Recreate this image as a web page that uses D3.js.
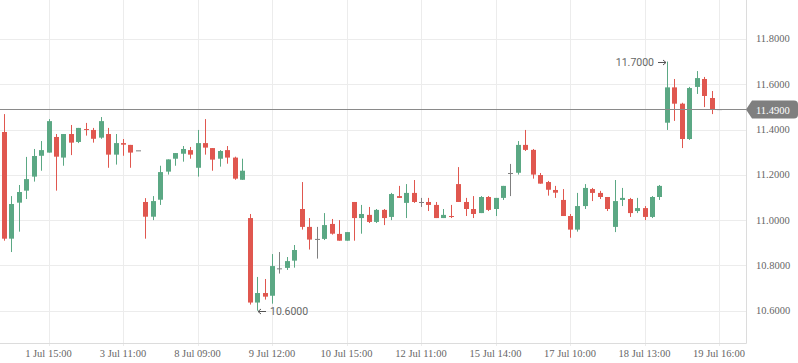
<!DOCTYPE html>
<html>
<head>
<meta charset="utf-8">
<script src="https://cdn.jsdelivr.net/npm/d3@7"></script>
<style>
  body { margin: 0; background: #fff; }
  svg { display: block; }
</style>
</head>
<body>
<div id="chart"></div>
<script>
// hourly candles, one per slot
const opens = [11.389,10.918,11.077,11.130,11.192,11.284,11.298,11.367,11.276,11.380,11.345,11.402,11.398,11.364,11.380,11.289,11.340,11.332,11.308,
  11.080,11.015,11.090,11.214,11.271,11.293,11.309,11.231,11.340,11.318,11.271,11.309,11.276,11.178,
  11.009,10.636,10.678,10.666,10.787,10.789,10.821,11.049,10.970,10.917,10.917,10.983,10.939,10.909,11.080,11.009,11.023,10.992,11.045,11.014,
  11.106,11.076,11.120,11.080,11.080,11.067,11.009,11.018,11.159,11.080,11.049,11.031,11.102,11.049,11.098,
  11.208,11.209,11.332,11.310,11.199,11.168,11.133,11.089,11.018,10.958,11.062,11.137,11.120,11.102,10.970,11.089,11.093,11.040,11.053,11.014,11.102,
  11.430,11.586,11.514,11.358,11.588,11.623,11.539,11.490];
const highs = [11.468,11.106,11.155,11.279,11.314,11.349,11.446,11.380,11.380,11.420,11.407,11.429,11.407,11.455,11.407,11.380,11.358,11.332,11.308,
  11.097,11.106,11.240,11.268,11.296,11.327,11.323,11.398,11.446,11.318,11.309,11.327,11.280,11.271,
  11.027,10.749,10.740,10.850,10.859,10.837,10.890,11.168,11.009,10.970,11.031,11.005,11.000,10.947,11.080,11.067,11.058,11.049,11.049,11.120,
  11.151,11.159,11.177,11.098,11.098,11.080,11.049,11.067,11.234,11.098,11.106,11.106,11.106,11.098,11.151,
  11.248,11.349,11.398,11.314,11.208,11.173,11.151,11.137,11.027,11.120,11.159,11.142,11.129,11.102,11.177,11.142,11.098,11.098,11.062,11.106,11.155,
  11.700,11.623,11.518,11.588,11.658,11.632,11.570,11.490];
const lows = [10.909,10.859,10.949,11.093,11.170,11.218,11.298,11.130,11.240,11.287,11.340,11.373,11.342,11.359,11.231,11.245,11.284,11.231,11.308,
  10.918,11.000,11.067,11.201,11.240,11.258,11.271,11.192,11.289,11.218,11.236,11.249,11.178,11.178,
  10.627,10.600,10.649,10.631,10.764,10.780,10.790,10.958,10.870,10.830,10.912,10.936,10.909,10.909,10.909,10.940,10.987,10.987,10.978,11.000,
  11.098,11.009,11.076,11.058,11.040,11.009,11.009,11.009,11.080,11.018,11.009,11.031,11.040,11.018,11.089,
  11.106,11.201,11.305,11.183,11.161,11.108,11.098,11.018,10.922,10.949,11.049,11.084,11.093,11.040,10.947,11.062,11.014,11.031,11.000,11.009,11.089,
  11.398,11.438,11.318,11.354,11.557,11.499,11.468,11.490];
const closes = [10.918,11.071,11.124,11.181,11.283,11.309,11.437,11.280,11.380,11.342,11.407,11.398,11.359,11.437,11.289,11.340,11.333,11.298,11.308,
  11.015,11.084,11.212,11.268,11.296,11.314,11.289,11.340,11.320,11.267,11.305,11.276,11.183,11.218,
  10.636,10.678,10.662,10.797,10.787,10.819,10.868,10.970,10.914,10.917,10.978,10.940,10.909,10.947,11.009,11.027,10.992,11.045,11.009,11.115,
  11.098,11.120,11.080,11.080,11.067,11.009,11.023,11.014,11.080,11.049,11.027,11.102,11.045,11.098,11.151,
  11.208,11.332,11.310,11.201,11.161,11.134,11.121,11.018,10.958,11.062,11.142,11.120,11.102,11.049,11.084,11.098,11.031,11.053,11.014,11.102,11.151,
  11.586,11.514,11.358,11.583,11.627,11.548,11.489,11.490];

const tickIdx = [6, 16, 26, 36, 46, 56, 66, 76, 86, 96];
const tickLabels = ["1 Jul 15:00", "3 Jul 11:00", "8 Jul 09:00", "9 Jul 12:00", "10 Jul 15:00",
  "12 Jul 11:00", "15 Jul 14:00", "17 Jul 10:00", "18 Jul 13:00", "19 Jul 16:00"];
const yTicks = [10.6, 10.8, 11.0, 11.2, 11.4, 11.6, 11.8];
const lastPrice = 11.49;

const W = 798, H = 363;
const plotW = 746, plotH = 343;
const up = "#5ba884", down = "#e0574f", flat = "#7f7f7f";

const svg = d3.select("#chart").append("svg")
  .attr("width", W).attr("height", H);

const x = d3.scaleLinear().domain([-0.51, 99.62]).range([0, plotW]);
const y = d3.scaleLinear().domain([10.6, 11.8]).range([310.7, 38.9]);

// grid
const grid = svg.append("g");
grid.selectAll(".hg").data(yTicks).enter().append("line")
  .attr("x1", 0).attr("x2", plotW)
  .attr("y1", d => Math.round(y(d)) + 0.5).attr("y2", d => Math.round(y(d)) + 0.5)
  .attr("stroke", "#ececec");
grid.selectAll(".vg").data(tickIdx).enter().append("line")
  .attr("x1", d => Math.round(x(d)) + 0.5).attr("x2", d => Math.round(x(d)) + 0.5)
  .attr("y1", 0).attr("y2", plotH + 3)
  .attr("stroke", "#ececec");

// axis lines
svg.append("line").attr("x1", 0).attr("x2", plotW + 0.5)
  .attr("y1", plotH + 0.5).attr("y2", plotH + 0.5).attr("stroke", "#dcdcdc");
svg.append("line").attr("x1", plotW + 0.5).attr("x2", plotW + 0.5)
  .attr("y1", 0).attr("y2", plotH + 0.5).attr("stroke", "#dcdcdc");

// axis labels
svg.append("g").selectAll("text").data(yTicks).enter().append("text")
  .attr("x", 756).attr("y", d => y(d) + 3.5)
  .attr("font-family", "Liberation Serif, serif").attr("font-size", 10.5)
  .attr("fill", "#666")
  .text(d => d3.format(".4f")(d));

svg.append("g").selectAll("text").data(tickIdx).enter().append("text")
  .attr("x", d => x(d)).attr("y", 357)
  .attr("text-anchor", "middle")
  .attr("font-family", "Liberation Serif, serif").attr("font-size", 10.5)
  .attr("fill", "#666")
  .text((d, i) => tickLabels[i]);

// candles
const candles = d3.range(opens.length).map(i => ({
  i, o: opens[i], h: highs[i], l: lows[i], c: closes[i]
}));
const colorOf = d => d.c > d.o ? up : d.c < d.o ? down : flat;
const bw = 5;

const cg = svg.append("g").selectAll("g").data(candles).enter().append("g");
cg.append("line")
  .attr("x1", d => Math.round(x(d.i)) + 0.5).attr("x2", d => Math.round(x(d.i)) + 0.5)
  .attr("y1", d => y(d.h)).attr("y2", d => y(d.l))
  .attr("stroke", colorOf).attr("stroke-width", 1);
cg.append("rect")
  .attr("x", d => Math.round(x(d.i)) - 2)
  .attr("width", bw)
  .attr("y", d => y(Math.max(d.o, d.c)))
  .attr("height", d => Math.max(1, Math.abs(y(d.o) - y(d.c))))
  .attr("fill", colorOf);

// max / min annotations with small arrows
const hiIdx = d3.maxIndex(highs), loIdx = d3.minIndex(lows);
const arrow = (g, x0, x1, yy) => {
  const dir = Math.sign(x1 - x0);
  g.append("path")
    .attr("d", `M${x0},${yy} H${x1} M${x1 - dir * 3},${yy - 2.5} L${x1},${yy} L${x1 - dir * 3},${yy + 2.5}`)
    .attr("fill", "none").attr("stroke", "#555").attr("stroke-width", 1);
};
const ann = svg.append("g");
const hx = Math.round(x(hiIdx)), hy = Math.round(y(highs[hiIdx])) + 0.5;
arrow(ann, hx - 9, hx - 1, hy);
ann.append("text")
  .attr("x", hx - 13).attr("y", hy + 3.5)
  .attr("text-anchor", "end")
  .attr("font-family", "Roboto, sans-serif").attr("font-size", 10.5)
  .attr("fill", "#666")
  .text(d3.format(".4f")(highs[hiIdx]));
const lx = Math.round(x(loIdx)), ly = Math.round(y(lows[loIdx])) + 0.5;
arrow(ann, lx + 9, lx + 1, ly);
ann.append("text")
  .attr("x", lx + 13).attr("y", ly + 3.5)
  .attr("font-family", "Roboto, sans-serif").attr("font-size", 10.5)
  .attr("fill", "#666")
  .text(d3.format(".4f")(lows[loIdx]));

// last price line and label
const py = Math.round(y(lastPrice)) + 0.5;
svg.append("line").attr("x1", 0).attr("x2", plotW)
  .attr("y1", py).attr("y2", py)
  .attr("stroke", "#8a8a8a").attr("stroke-width", 1);
svg.append("path")
  .attr("d", `M${plotW},${py} L${plotW + 6},${py - 9} H${W - 4} Q${W},${py - 9} ${W},${py - 5} V${py + 5} Q${W},${py + 9} ${W - 4},${py + 9} H${plotW + 6} Z`)
  .attr("fill", "#7f7f7f");
svg.append("text")
  .attr("x", 756).attr("y", py + 4)
  .attr("font-family", "Liberation Serif, serif").attr("font-size", 10.5)
  .attr("fill", "#fff")
  .text(d3.format(".4f")(lastPrice));
</script>
</body>
</html>
